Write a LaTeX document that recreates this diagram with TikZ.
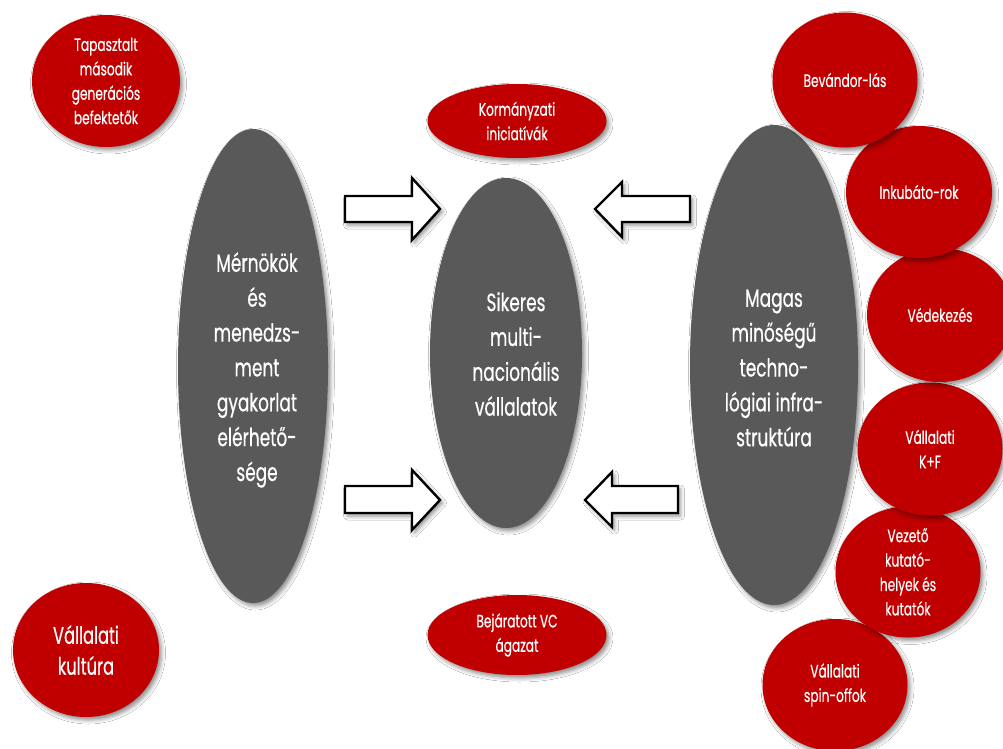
\documentclass[tikz,border=0pt]{standalone}
\usepackage{fontspec}
\setmainfont{Poppins}[FakeStretch=0.68, FakeBold=0.5]
\usetikzlibrary{shapes.geometric,shadows.blur}

\definecolor{hubgrey}{HTML}{595959}
\definecolor{factorred}{HTML}{C00000}

\tikzset{
  softshadow/.style={blur shadow={shadow xshift=2.5bp, shadow yshift=-3bp,
      shadow blur radius=4bp, shadow opacity=45}},
  pillar/.style={ellipse, fill=hubgrey, softshadow, text=white, align=center,
      inner sep=0pt, font=\fontsize{25}{35}\selectfont},
  factor/.style={ellipse, fill=factorred, softshadow, text=white, align=center,
      inner sep=0pt, font=\fontsize{18}{24.5}\selectfont},
  blockarrow/.style={draw=black, line width=2.4bp, fill=white, line join=miter,
      softshadow},
}

\begin{document}
\begin{tikzpicture}[x=1bp, y=-1bp]
  \useasboundingbox (0,0) rectangle (1003,749);
  \fill[white] (0,0) rectangle (1003,749);

  % three grey pillars
  \node[pillar, minimum width=150bp, minimum height=474bp] (eng) at (253,366) {};
  \node[pillar, minimum width=152bp, minimum height=350bp] (mnc) at (506,353) {};
  \node[pillar, minimum width=168bp, minimum height=480bp] (infra) at (774,365) {};
  \node[text=white, align=center, font=\fontsize{25}{35}\selectfont] (engtxt) at (257,370)
    {Mérnökök\\és\\menedzs-\\ment\\gyakorlat\\elérhető-\\sége};
  \node[text=white, align=center, font=\fontsize{25}{35}\selectfont] (mnctxt) at (516,354)
    {Sikeres\\multi-\\nacionális\\vállalatok};
  \node[text=white, align=center, font=\fontsize{25}{35}\selectfont] (infratxt) at (774,368)
    {Magas\\minőségű\\techno-\\lógiai infra-\\struktúra};

  % block arrows towards the centre
  \draw[blockarrow] (345,196) -- (412,196) -- (412,178) -- (440,209) -- (412,240)
    -- (412,222) -- (345,222) -- cycle;
  \draw[blockarrow] (345,486) -- (412,486) -- (412,470) -- (440,500) -- (412,530)
    -- (412,513) -- (345,513) -- cycle;
  \draw[blockarrow] (690,196) -- (622,196) -- (622,182) -- (595,209) -- (622,237)
    -- (622,222) -- (690,222) -- cycle;
  \draw[blockarrow] (678,486) -- (612,486) -- (612,472) -- (585,500) -- (612,527)
    -- (612,513) -- (678,513) -- cycle;

  % left and central factors
  \node[factor, minimum width=148bp, minimum height=132bp] (investors) at (106,81)
    {Tapasztalt\\második\\generációs\\befektetők};
  \node[factor, minimum width=146bp, minimum height=134bp,
        font=\fontsize{24}{31}\selectfont] (culture) at (86,650)
    {Vállalati\\kultúra};
  \node[factor, minimum width=179bp, minimum height=74bp] (gov) at (517,121)
    {Kormányzati\\iniciatívák};
  \node[factor, minimum width=179bp, minimum height=80bp] (vc) at (517,635)
    {Bejáratott VC\\ágazat};

  % right-hand column of factors
  \node[factor, minimum width=145bp, minimum height=132bp] (spin) at (835,685)
    {Vállalati\\spin-offok};
  \node[factor, minimum width=145bp, minimum height=131bp] (labs) at (908,572)
    {Vezető\\kutató-\\helyek és\\kutatók};
  \node[factor, minimum width=145bp, minimum height=133bp] (rnd) at (930,449)
    {Vállalati\\K+F};
  \node[factor, minimum width=146bp, minimum height=134bp] (defence) at (940,315)
    {Védekezés};
  \node[factor, minimum width=146bp, minimum height=132bp] (incub) at (919,192)
    {Inkubáto-rok};
  \node[factor, minimum width=145bp, minimum height=135bp] (immig) at (845,80)
    {Bevándor-lás};
\end{tikzpicture}
\end{document}
